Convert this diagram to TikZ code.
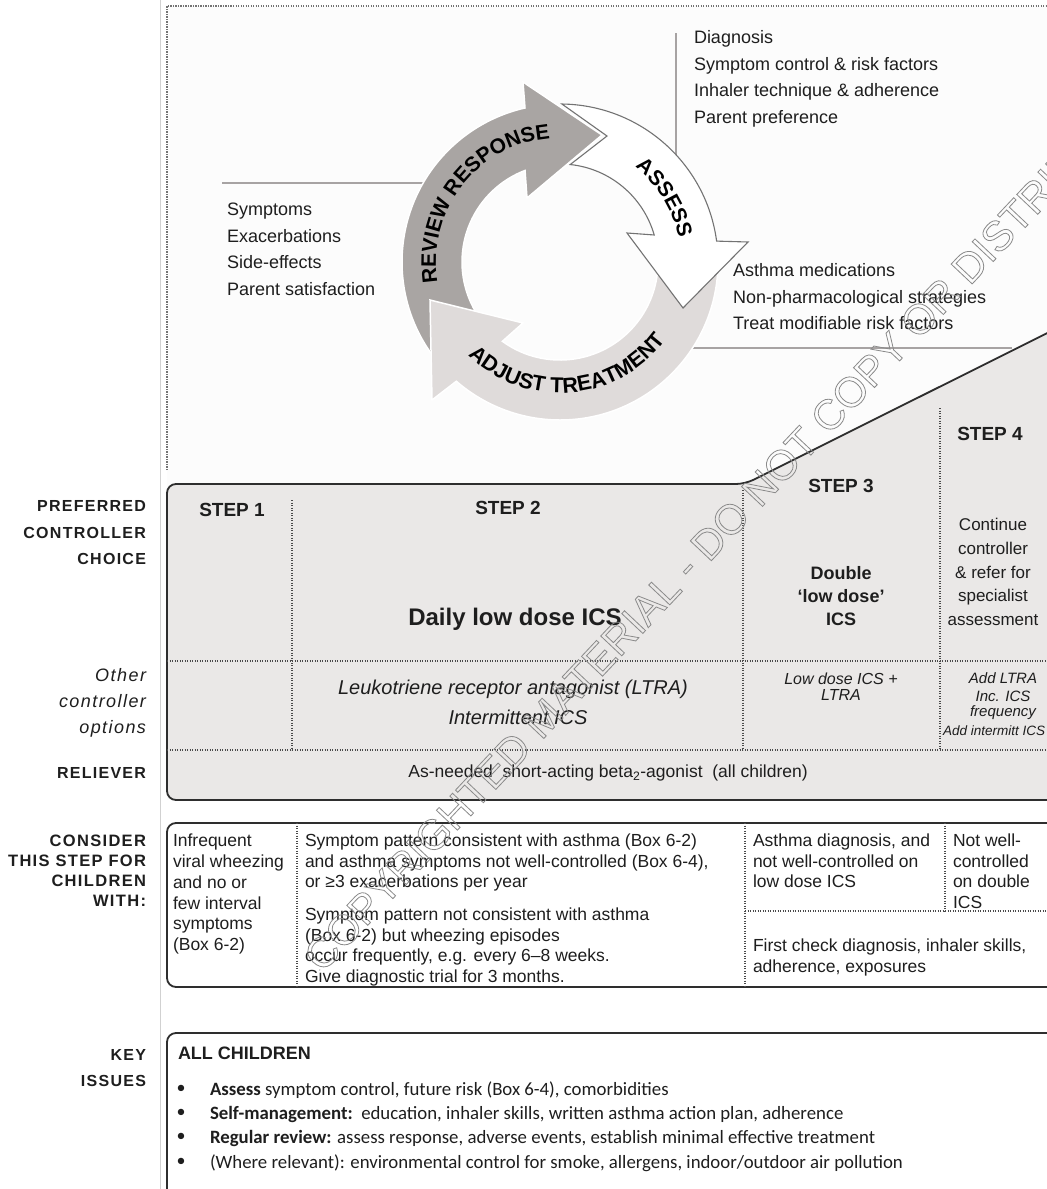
\documentclass[tikz,border=0pt]{standalone}
\usepackage{fontspec}
\setmainfont{Liberation Sans}
\newfontfamily\calf{Carlito}
\newfontfamily\labf[LetterSpace=8]{Liberation Sans}
\usetikzlibrary{decorations.text}
\definecolor{darkarrow}{HTML}{A9A5A3}
\definecolor{lightarrow}{HTML}{DFDBDA}
\definecolor{panelgray}{HTML}{EAE8E7}
\definecolor{paneltop}{HTML}{FCFCFC}
\definecolor{leadc}{HTML}{A7A3A3}
\definecolor{edgec}{HTML}{2E2E2E}
\definecolor{dotc}{HTML}{4A4A4A}
\definecolor{wmc}{HTML}{8A8A8A}
\definecolor{txt}{HTML}{1E1E1E}
\begin{document}
\begin{tikzpicture}[x=1pt,y=1pt,
  every node/.style={inner sep=0pt, outer sep=0pt, text=txt},
  lab/.style={anchor=east, align=right, font=\labf\bfseries\fontsize{16}{26.5}\selectfont},
  labi/.style={anchor=east, align=right, font=\labf\itshape\fontsize{18}{26}\selectfont},
  lst/.style={anchor=base west, font=\fontsize{18}{20}\selectfont},
  body/.style={anchor=north west, align=left, font=\fontsize{17.5}{20.5}\selectfont},
  stepl/.style={font=\bfseries\fontsize{19}{19}\selectfont},
  tdot/.style={draw=dotc, line width=1.1, dash pattern=on 1.1pt off 1.4pt},
  lead/.style={draw=leadc, line width=1.8},
  boxedge/.style={draw=edgec, line width=1.8, rounded corners=9},
  keyl/.style={anchor=base west, font=\calf\fontsize{18.8}{18.8}\selectfont},
  bul/.style={font=\calf\fontsize{18}{18}\selectfont}
]
\useasboundingbox (0,0) rectangle (1047,-1189);
\fill[white] (0,0) rectangle (1047,-1189);
% left thin line and top dotted frame
\draw[black!18, line width=1] (160,0) -- (160,-1189);
\fill[paneltop] (167,-6) rectangle (1047,-800);
\draw[tdot, draw=black!55] (167,-470) -- (167,-6) -- (1047,-6);

% leader lines
\draw[lead] (222,-183) -- (424,-183);
\draw[lead] (676,-33) -- (676,-158);
\draw[lead] (690,-348) -- (1012,-348);

% cycle: center (560,-262)
\fill[darkarrow, draw=white, line width=1.5]
  ([shift={(560,-262)}]220:158) arc[start angle=220, end angle=102.8, radius=158]
  -- (523,-82) -- (602,-135) -- (527,-198)
  -- ([shift={(560,-262)}]110.9:98) arc[start angle=110.9, end angle=220, radius=98] -- cycle;
\fill[lightarrow, draw=white, line width=1.5]
  ([shift={(560,-262)}]0:158) arc[start angle=0, end angle=-131, radius=158]
  -- (432,-400) -- (430,-300) -- (523,-323)
  -- ([shift={(560,-262)}]-126:98) arc[start angle=-126, end angle=0, radius=98] -- cycle;
\filldraw[fill=white, draw=black!55, line width=1.1]
  ([shift={(560,-262)}]89.3:158) arc[start angle=89.3, end angle=7.6, radius=158]
  -- (748,-242) -- (683,-308) -- (627,-233)
  -- ([shift={(560,-262)}]16:98) arc[start angle=16, end angle=84, radius=98]
  -- (607,-136) -- cycle;

\path[decorate, decoration={text along path, text align=center,
  text={|\bfseries\fontsize{21}{21}\selectfont|REVIEW RESPONSE}}]
  ([shift={(560,-262)}]207:124) arc[start angle=207, end angle=77, radius=124];
\path[decorate, decoration={text along path, text align=center,
  text={|\bfseries\fontsize{21}{21}\selectfont|ASSESS}}]
  ([shift={(560,-262)}]61.5:121) arc[start angle=61.5, end angle=1.5, radius=121];
\path[decorate, decoration={text along path, text align=center,
  text={|\bfseries\fontsize{21.5}{21.5}\selectfont|ADJUST TREATMENT}}]
  ([shift={(560,-262)}]215:131) arc[start angle=215, end angle=334, radius=131];

% cycle lists
\node[lst] (l1) at (227,-215.5) {Symptoms};
\node[lst] (l2) at (227,-242.5) {Exacerbations};
\node[lst] (l3) at (227,-268.5) {Side-effects};
\node[lst] (l4) at (227,-295.5) {Parent satisfaction};
\node[lst] (t1) at (694,-43.5) {Diagnosis};
\node[lst] (t2) at (694,-70.5) {Symptom control \& risk factors};
\node[lst] (t3) at (694,-96.5) {Inhaler technique \& adherence};
\node[lst] (t4) at (694,-123.5) {Parent preference};
\node[lst] (r1) at (733,-276.5) {Asthma medications};
\node[lst] (r2) at (733,-303.5) {Non-pharmacological strategies};
\node[lst] (r3) at (733,-329.5) {Treat modifiable risk factors};

% staircase panel
\filldraw[fill=panelgray, boxedge]
  (1070,-321.7) -- (745,-484) -- (167,-484) -- (167,-800) -- (1070,-800);
\draw[tdot] (292,-500) -- (292,-750);
\draw[tdot] (743,-490) -- (743,-750);
\draw[tdot] (940,-408) -- (940,-750);
\draw[tdot] (167,-661) -- (1047,-661);
\draw[tdot] (167,-750) -- (1047,-750);

\node[stepl] (s1) at (232,-510) {STEP 1};
\node[stepl] (s2) at (508,-508) {STEP 2};
\node[stepl] (s3) at (841,-486) {STEP 3};
\node[stepl] (s4) at (990,-434) {STEP 4};
\node[font=\bfseries\fontsize{24}{24}\selectfont] (dl) at (515,-619) {Daily low dose ICS};
\node[align=center, font=\bfseries\fontsize{18}{23}\selectfont] (dbl) at (841,-596) {Double\\‘low dose’\\ICS};
\node[align=center, font=\fontsize{17}{23.75}\selectfont] (cont) at (993,-572) {Continue\\controller\\\& refer for\\specialist\\assessment};
\node[font=\itshape\fontsize{20}{20}\selectfont] (ltra) at (513,-689) {Leukotriene receptor antagonist (LTRA)};
\node[font=\itshape\fontsize{20}{20}\selectfont] (iics) at (518,-717) {Intermittent ICS};
\node[align=center, font=\itshape\fontsize{16}{16}\selectfont] (ldl) at (841,-687) {Low dose ICS +\\LTRA};
\node[font=\itshape\fontsize{15}{15}\selectfont] (al) at (1003,-678) {Add LTRA};
\node[align=center, font=\itshape\fontsize{15}{15}\selectfont] (inc) at (1003,-705) {Inc. ICS\\frequency};
\node[anchor=west, font=\itshape\fontsize{13.5}{13.5}\selectfont] (aii) at (943,-731) {Add intermitt ICS};
\node[font=\fontsize{17.5}{20}\selectfont] (sab) at (608,-773) {As-needed\ \ short-acting beta\textsubscript{2}-agonist\ \ (all children)};

% consider box
\filldraw[fill=white, boxedge] (1070,-823) -- (167,-823) -- (167,-987) -- (1070,-987);
\draw[tdot] (297,-823) -- (297,-987);
\draw[tdot] (745,-823) -- (745,-987);
\draw[tdot] (945,-823) -- (945,-911);
\draw[tdot] (745,-911) -- (1047,-911);
\node[body, font=\fontsize{17.5}{20.8}\selectfont] (c1) at (173,-834) {Infrequent\\viral wheezing\\and no or\\few interval\\symptoms\\(Box 6-2)};
\node[body] (c2a) at (305,-834) {Symptom pattern consistent with asthma (Box 6-2)\\and asthma symptoms not well-controlled (Box 6-4),\\or ≥3 exacerbations per year};
\node[body] (c2b) at (305,-908) {Symptom pattern not consistent with asthma\\(Box 6-2) but wheezing episodes\\occur frequently, e.g. every 6–8 weeks.\\Give diagnostic trial for 3 months.};
\node[body] (c3) at (753,-834) {Asthma diagnosis, and\\not well-controlled on\\low dose ICS};
\node[body] (c4) at (953,-834) {Not well-\\controlled\\on double\\ICS};
\node[body] (c3b) at (753,-939) {First check diagnosis, inhaler skills,\\adherence, exposures};

% key issues box
\draw[boxedge] (1070,-1033) -- (167,-1033) -- (167,-1200);
\node[anchor=base west, font=\bfseries\fontsize{18}{18}\selectfont] (allc) at (178,-1059.5) {ALL CHILDREN};
\node[bul] (b1) at (181,-1089) {•};
\node[bul] (b2) at (181,-1113) {•};
\node[bul] (b3) at (181,-1137) {•};
\node[bul] (b4) at (181,-1162) {•};
\node[keyl] (k1) at (210,-1095) {\textbf{Assess}\ symptom control, future risk (Box 6-4), comorbidities};
\node[keyl] (k2) at (210,-1119) {\textbf{Self-management:}\ \ education, inhaler skills, written asthma action plan, adherence};
\node[keyl] (k3) at (210,-1143) {\textbf{Regular review:} assess response, adverse events, establish minimal effective treatment};
\node[keyl] (k4) at (210,-1168) {(Where relevant): environmental control for smoke, allergens, indoor/outdoor air pollution};

% left labels
\node[lab] (pcc) at (146,-533) {PREFERRED\\CONTROLLER\\CHOICE};
\node[labi] (oco) at (146,-703) {Other\\controller\\options};
\node[lab] (rel) at (146,-773) {RELIEVER};
\node[lab, font=\labf\bfseries\fontsize{16.5}{20}\selectfont] (cst) at (146,-871) {CONSIDER\\THIS STEP FOR\\CHILDREN\\WITH:};
\node[lab] (key) at (146,-1068) {KEY\\ISSUES};

% watermark
\node[rotate=46.7, anchor=base west, text=wmc, font=\fontsize{42}{42}\selectfont] (wm) at (320,-976)
  {\textcolor{white}{.}\special{pdf:literal direct 1 Tr 0.8 w}\kern-0.2em COPYRIGHTED MATERIAL - DO NOT COPY OR DISTRIBUTE\special{pdf:literal direct 0 Tr}};
\end{tikzpicture}
\end{document}
